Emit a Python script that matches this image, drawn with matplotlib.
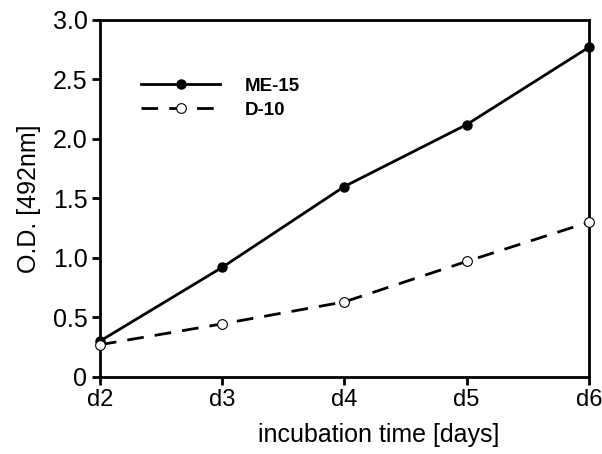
import matplotlib
matplotlib.use("Agg")
import matplotlib.pyplot as plt

days = ["d2", "d3", "d4", "d5", "d6"]
me15 = [0.30, 0.92, 1.60, 2.12, 2.77]
d10 = [0.27, 0.445, 0.63, 0.97, 1.30]
yticks = [0, 0.5, 1.0, 1.5, 2.0, 2.5, 3.0]
ytick_labels = ["0", "0.5", "1.0", "1.5", "2.0", "2.5", "3.0"]

plt.rcParams['font.family'] = ['Liberation Sans', 'DejaVu Sans']

fig = plt.figure(figsize=(6.02, 4.54), dpi=100)
ax = fig.add_axes([0.166, 0.170, 0.812, 0.786])
x = list(range(len(days)))
ax.plot(x, me15, '-', color='black', lw=2, marker='o', ms=6.5,
        mfc='black', mec='black', label='ME-15', clip_on=False, zorder=3)
ax.plot(x, d10, '--', color='black', lw=2, dashes=(6, 4), marker='o', ms=7,
        mfc='white', mec='black', mew=0.8, label='D-10', clip_on=False, zorder=4)
ax.set_xlim(0, 4)
ax.set_ylim(0, 3.0)
ax.set_xticks(x)
ax.set_xticklabels(days, fontsize=17)
ax.set_yticks(yticks)
ax.set_yticklabels(ytick_labels, fontsize=18)
for s in ax.spines.values():
    s.set_linewidth(2)
ax.tick_params(direction='out', length=6, width=2, pad=3)
ax.set_ylabel("O.D. [492nm]", fontsize=18, labelpad=8)
ax.set_xlabel("incubation time [days]", fontsize=18, labelpad=8)
ax.xaxis.set_label_coords(0.57, -0.13)
leg = ax.legend(loc='upper left', bbox_to_anchor=(0.05, 0.885), frameon=False,
                prop={'weight': 'bold', 'size': 13.5}, handlelength=4.2,
                handletextpad=1.3, labelspacing=0.35)
fig.savefig("out.png", dpi=100)
